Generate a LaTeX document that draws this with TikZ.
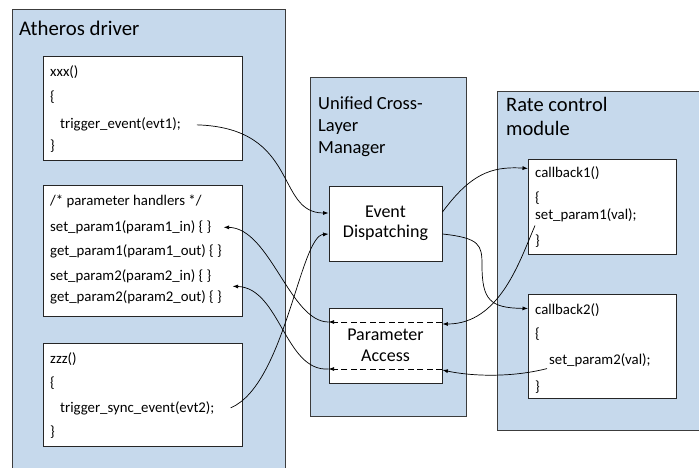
\documentclass[tikz,border=0pt]{standalone}
\usepackage{fontspec}
\setmainfont{Carlito}
\usetikzlibrary{arrows.meta}
\definecolor{panelblue}{RGB}{198,217,236}
\definecolor{framegray}{RGB}{60,60,60}
\tikzset{
  panel/.style={draw=framegray, fill=panelblue, line width=0.9pt},
  codebox/.style={draw=black!85, fill=white, line width=0.9pt, inner sep=0pt, anchor=north west},
  blockbox/.style={draw=black!85, fill=white, line width=0.9pt, align=center,
    font=\fontsize{18}{20.5}\selectfont},
  code/.style={anchor=base west, inner sep=0pt, font=\fontsize{14.8}{17}\selectfont},
  title/.style={anchor=base west, inner sep=0pt, align=left},
  flow/.style={-{Latex[length=5.5pt,width=4pt]}, line width=0.7pt},
  dashflow/.style={flow, dash pattern=on 6pt off 3.5pt}
}
\begin{document}
\begin{tikzpicture}[x=1pt,y=-1pt]
\useasboundingbox (0,0) rectangle (699,468);
\clip (0,0) rectangle (699,468);

% the three layers
\draw[panel] (12,9) rectangle (285,480);
\draw[panel] (310,77) rectangle (466,416);
\draw[panel] (497,91) rectangle (710,430);

\node[title, font=\fontsize{20.8}{24}\selectfont] (tdrv) at (19,36) {Atheros driver};
\node[title, font=\fontsize{18.5}{22}\selectfont, anchor=north west] (tmgr) at (318,96)
  {Unified Cross-\\Layer\\Manager};
\node[title, font=\fontsize{20.5}{24}\selectfont, anchor=north west] (trate) at (506,97)
  {Rate control\\module};

% driver code boxes
\node[codebox, minimum width=199pt, minimum height=104pt] (xxxbox) at (43,56) {};
\node[code] (l1a) at (50,77) {xxx()};
\node[code] (l1b) at (50,102) {\{};
\node[code] (te) at (60,129) {trigger\_event(evt1);};
\node[code] (l1d) at (50,151) {\}};

\node[codebox, minimum width=199pt, minimum height=131pt] (hbox) at (43,185) {};
\node[code] (l2a) at (50,205.5) {/* parameter handlers */};
\node[code] (sph1) at (50,231.5) {set\_param1(param1\_in) \{ \}};
\node[code] (gph1) at (50,255.5) {get\_param1(param1\_out) \{ \}};
\node[code] (sph2) at (50,280.5) {set\_param2(param2\_in) \{ \}};
\node[code] (gph2) at (50,301.5) {get\_param2(param2\_out) \{ \}};

\node[codebox, minimum width=199pt, minimum height=103pt] (zzzbox) at (43,343) {};
\node[code] (l3a) at (50,363) {zzz()};
\node[code] (l3b) at (50,387) {\{};
\node[code] (tse) at (60,412) {trigger\_sync\_event(evt2);};
\node[code] (l3d) at (50,436) {\}};

% manager blocks
\node[blockbox, minimum width=113pt, minimum height=75pt] (ED) at (385.5,223.5) {Event\\Dispatching};
\node[blockbox, minimum width=113pt, minimum height=75pt] (PA) at (385.5,345.5) {Parameter\\Access};

% rate control callbacks
\node[codebox, minimum width=148pt, minimum height=95pt] (cb1) at (528,159) {};
\node[code] (c1a) at (535,178) {callback1()};
\node[code] (c1b) at (535,202) {\{};
\node[code] (csp1) at (535,219) {set\_param1(val);};
\node[code] (c1d) at (535,245) {\}};

\node[codebox, minimum width=148pt, minimum height=104pt] (cb2) at (528,294) {};
\node[code] (c2a) at (535,314) {callback2()};
\node[code] (c2b) at (535,338) {\{};
\node[code] (csp2) at (549,364) {set\_param2(val);};
\node[code] (c2d) at (535,391) {\}};

% event triggers into the dispatcher
\draw[flow] ([xshift=16pt]te.east) .. controls (300,128) and (275,213) .. ([yshift=10.5pt]ED.west);
\draw[flow] ([xshift=16pt]tse.east) .. controls (285,385) and (300,236) .. ([yshift=-10.5pt]ED.west);

% dispatcher to callbacks
\draw[flow] ([yshift=11.5pt]ED.east) .. controls (470,175) and (490,166) .. ([yshift=38.5pt]cb1.west);
\draw[flow] ([yshift=-10.5pt]ED.east) .. controls (480,238) and (482,245) .. (482,265)
  .. controls (482,300) and (490,308) .. ([yshift=38pt]cb2.west);

% parameter setters into the access block
\draw[flow] ([yshift=-4pt]csp1.south west) .. controls (520,260) and (500,324) .. ([yshift=21.5pt]PA.east);
\draw[flow] ([xshift=-2pt,yshift=-2pt]csp2.south west) .. controls (510,378) and (470,376) .. ([yshift=-24.5pt]PA.east);

% pass-through inside the access block
\draw[dashflow] ([yshift=23.5pt]PA.east) -- ([yshift=23.5pt]PA.west);
\draw[dashflow] ([yshift=-23.5pt]PA.east) -- ([yshift=-23.5pt]PA.west);

% access block to the driver's handlers
\draw[flow] ([yshift=23.5pt]PA.west) .. controls (290,322) and (270,228) .. ([xshift=12pt]sph1.east);
\draw[flow] ([yshift=-23.5pt]PA.west) .. controls (285,372) and (280,288) .. ([xshift=21pt,yshift=-10pt]sph2.east);
\end{tikzpicture}
\end{document}
